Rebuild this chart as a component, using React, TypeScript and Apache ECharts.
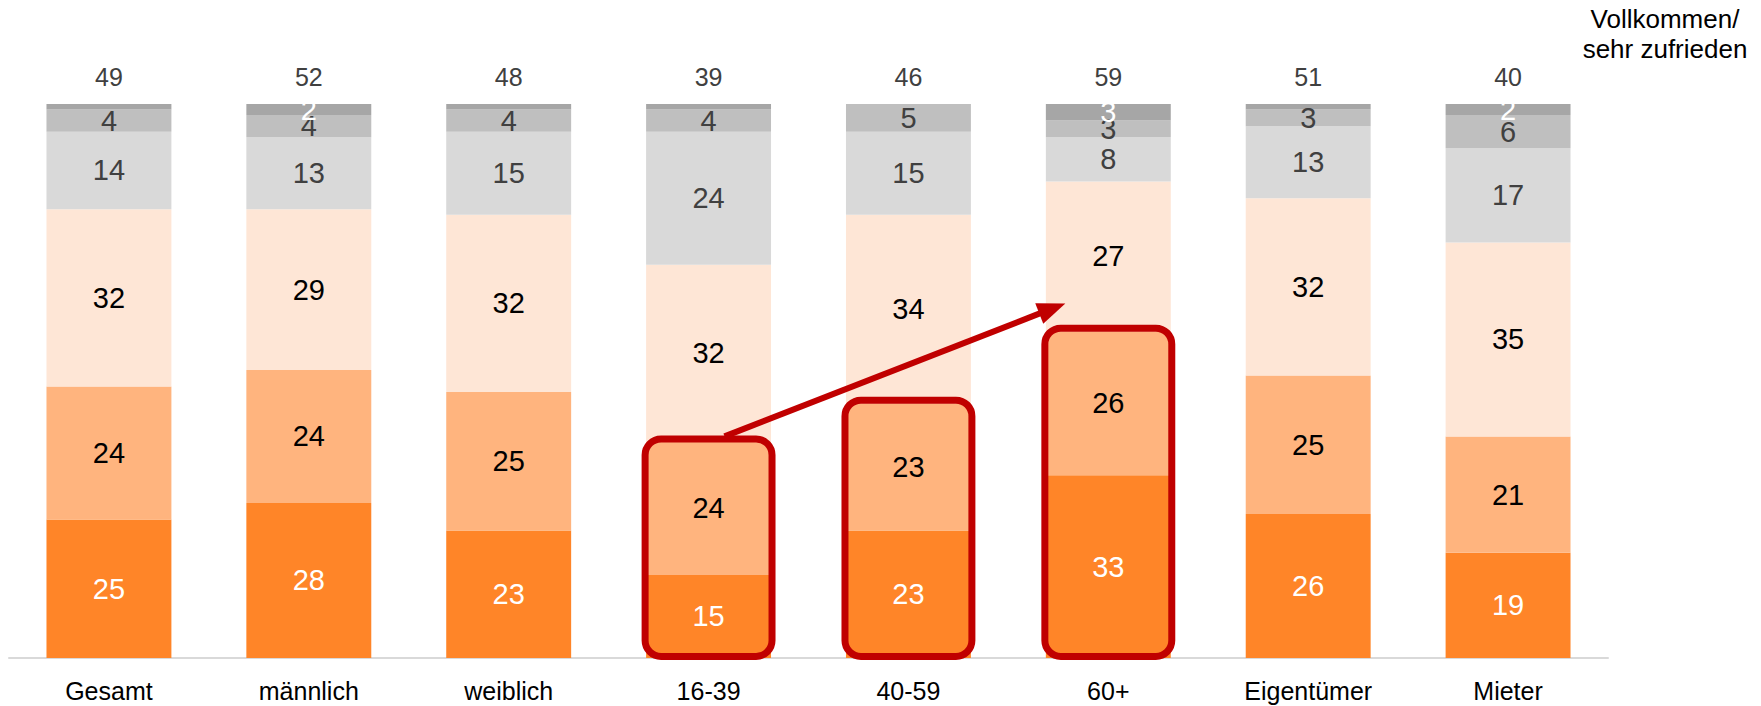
import React, { useEffect, useRef } from "react";
import * as echarts from "echarts";

const categories = ["Gesamt", "männlich", "weiblich", "16-39", "40-59", "60+", "Eigentümer", "Mieter"];
const vollkommen = [25, 28, 23, 15, 23, 33, 26, 19];
const sehr = [24, 24, 25, 24, 23, 26, 25, 21];
const ziemlich = [32, 29, 32, 32, 34, 27, 32, 35];
const teils = [14, 13, 15, 24, 15, 8, 13, 17];
const wenig = [4, 4, 4, 4, 5, 3, 3, 6];
const gar = [1, 2, 1, 1, 0, 3, 1, 2];
const topSums = [49, 52, 48, 39, 46, 59, 51, 40];
const highlighted = [3, 4, 5];
// arrow: from category 3 at 40% to category 5 at 64%
const arrowFrom = [3, 40];
const arrowTo = [5, 64];

const FONT = "'Liberation Sans', Arial, sans-serif";

export default function App() {
  const ref = useRef<HTMLDivElement>(null);
  useEffect(() => {
    const chart = echarts.init(ref.current!, null, { renderer: "svg" });
    const segs = [
      { name: "vollkommen", data: vollkommen, color: "#FF8528", label: "#FFFFFF", min: 1 },
      { name: "sehr", data: sehr, color: "#FFB47E", label: "#000000", min: 1 },
      { name: "ziemlich", data: ziemlich, color: "#FEE6D6", label: "#000000", min: 1 },
      { name: "teils", data: teils, color: "#D9D9D9", label: "#404040", min: 1 },
      { name: "wenig", data: wenig, color: "#BFBFBF", label: "#404040", min: 1 },
      { name: "gar", data: gar, color: "#A6A6A6", label: "#FFFFFF", min: 2 },
    ];
    const barSeries = segs.map((s) => ({
      type: "bar",
      name: s.name,
      stack: "total",
      data: s.data,
      barWidth: "62.5%",
      itemStyle: { color: s.color },
      label: {
        show: true,
        position: "inside",
        color: s.label,
        fontSize: 29,
        fontFamily: FONT,
        formatter: (p: any) => (p.value >= s.min ? String(p.value) : ""),
      },
      silent: true,
    }));
    const option: any = {
      animation: false,
      grid: { left: 9, right: 153, top: 104, bottom: 48 },
      xAxis: {
        type: "category",
        data: categories,
        axisLine: { show: true, lineStyle: { color: "#D9D9D9", width: 2 } },
        axisTick: { show: false },
        axisLabel: { color: "#000000", fontSize: 25, fontFamily: FONT, margin: 20 },
      },
      yAxis: { type: "value", min: 0, max: 100, show: false, splitLine: { show: false } },
      graphic: [
        {
          type: "text",
          x: 1665,
          y: 4,
          style: {
            text: "Vollkommen/\nsehr zufrieden",
            align: "center",
            verticalAlign: "top",
            fontSize: 26,
            lineHeight: 30,
            fontFamily: FONT,
            fill: "#000000",
          },
        },
      ],
      series: [
        ...barSeries,
        {
          type: "custom",
          name: "sums",
          silent: true,
          data: topSums.map((s, i) => [i, 100, s]),
          encode: { x: 0, y: 1 },
          renderItem: (params: any, api: any) => {
            const p = api.coord([api.value(0), 100]);
            return {
              type: "text",
              x: p[0],
              y: p[1] - 27,
              style: {
                text: String(api.value(2)),
                align: "center",
                verticalAlign: "middle",
                fontSize: 25,
                fontFamily: FONT,
                fill: "#404040",
              },
            };
          },
        },
        {
          type: "custom",
          name: "highlight",
          silent: true,
          z: 10,
          data: highlighted.map((i) => [i, vollkommen[i] + sehr[i]]),
          encode: { x: 0, y: 1 },
          renderItem: (params: any, api: any) => {
            const idx = api.value(0);
            const top = api.coord([idx, api.value(1)]);
            const bot = api.coord([idx, 0]);
            const bw = api.size([1, 0])[0] * 0.625;
            return {
              type: "rect",
              shape: {
                x: top[0] - bw / 2 - 1,
                y: top[1] - 3,
                width: bw + 2,
                height: bot[1] - top[1] + 1.5,
                r: 16,
              },
              style: { fill: "none", stroke: "#C00000", lineWidth: 7 },
            };
          },
        },
        {
          type: "custom",
          name: "arrow",
          silent: true,
          z: 11,
          data: [[arrowFrom[0], arrowFrom[1], arrowTo[0], arrowTo[1]]],
          encode: { x: [0, 2], y: [1, 3] },
          renderItem: (params: any, api: any) => {
            const band = api.size([1, 0])[0];
            const a = api.coord([api.value(0), api.value(1)]);
            const b = api.coord([api.value(2), api.value(3)]);
            const x0 = a[0] + 0.08 * band;
            const y0 = a[1];
            const x1 = b[0] - 0.215 * band;
            const y1 = b[1];
            const dx = x1 - x0;
            const dy = y1 - y0;
            const len = Math.sqrt(dx * dx + dy * dy);
            const ux = dx / len;
            const uy = dy / len;
            const headLen = 28;
            const headHalf = 11;
            const bx = x1 - ux * headLen;
            const by = y1 - uy * headLen;
            return {
              type: "group",
              children: [
                {
                  type: "line",
                  shape: { x1: x0, y1: y0, x2: bx + ux * 2, y2: by + uy * 2 },
                  style: { stroke: "#C00000", lineWidth: 6 },
                },
                {
                  type: "polygon",
                  shape: {
                    points: [
                      [x1, y1],
                      [bx - uy * headHalf, by + ux * headHalf],
                      [bx + uy * headHalf, by - ux * headHalf],
                    ],
                  },
                  style: { fill: "#C00000" },
                },
              ],
            };
          },
        },
      ],
    };
    chart.setOption(option);
    return () => chart.dispose();
  }, []);
  return (
    <div
      ref={ref}
      style={{ position: "fixed", left: 0, top: 0, width: 1761, height: 706, background: "#ffffff" }}
    />
  );
}
